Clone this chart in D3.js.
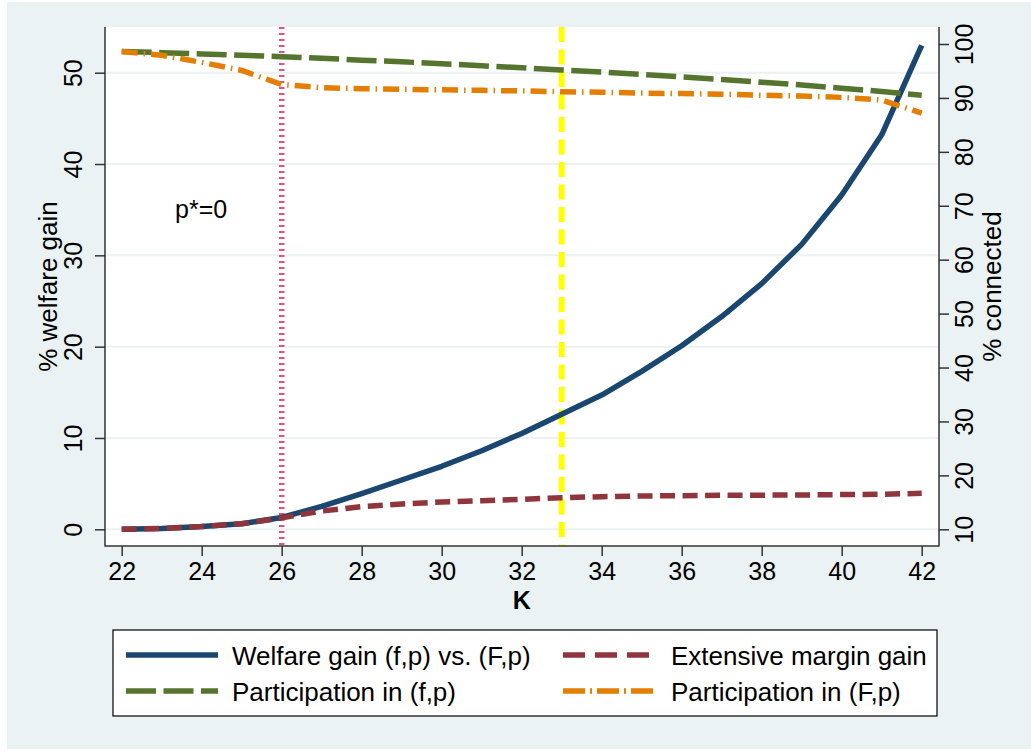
<!DOCTYPE html>
<html>
<head>
<meta charset="utf-8">
<script src="https://cdn.jsdelivr.net/npm/d3@7"></script>
<style>
  html, body { margin: 0; padding: 0; background: #ffffff; }
  svg { display: block; font-family: "Liberation Sans", Arial, sans-serif; }
</style>
</head>
<body>
<svg id="chart" width="1031" height="751"></svg>
<script>
// ---- data ----
const K = [22,23,24,25,26,27,28,29,30,31,32,33,34,35,36,37,38,39,40,41,42];
const welfareGain = [0,0.1,0.3,0.6,1.3,2.5,3.9,5.4,6.9,8.6,10.5,12.6,14.7,17.3,20.1,23.3,26.9,31.2,36.6,43.2,53.0];
const extensiveGain = [0,0.1,0.3,0.6,1.25,2.0,2.48,2.77,2.99,3.13,3.28,3.46,3.57,3.65,3.68,3.72,3.74,3.76,3.8,3.83,3.94];
const partSmall = [98.6,98.4,98.15,97.9,97.65,97.35,97.0,96.7,96.35,95.95,95.6,95.2,94.8,94.35,93.9,93.4,92.9,92.4,91.8,91.2,90.5];
const partBig = [98.6,97.9,96.6,95.1,92.5,91.9,91.7,91.6,91.5,91.4,91.3,91.15,91.05,90.9,90.8,90.7,90.5,90.35,90.1,89.6,87.2];
const xTicks = [22,24,26,28,30,32,34,36,38,40,42];
const leftTicks = [0,10,20,30,40,50];
const rightTicks = [10,20,30,40,50,60,70,80,90,100];
const refLines = [26, 33];
const seriesNames = ["Welfare gain (f,p) vs. (F,p)", "Extensive margin gain", "Participation in (f,p)", "Participation in (F,p)"];
const annotation = "p*=0";

// ---- layout ----
const W = 1031, H = 751;
const P = {left: 105, right: 939, top: 27, bottom: 546};
const svg = d3.select("#chart");
const FS = 25;
const FSL = 26;

svg.append("rect").attr("x", 7).attr("y", 2).attr("width", W - 7).attr("height", H - 4).attr("fill", "#eaf2f3");
svg.append("rect").attr("x", P.left).attr("y", P.top).attr("width", P.right - P.left).attr("height", P.bottom - P.top).attr("fill", "#ffffff");

const x = d3.scaleLinear().domain([22, 42]).range([121.7, 921.7]);
const yL = d3.scaleLinear().domain([0, 50]).range([529.3, 72.7]);
const yR = d3.scaleLinear().domain([10, 100]).range([529.3, 44]);

// gridlines
svg.append("g").selectAll("line").data(leftTicks).join("line")
  .attr("x1", P.left).attr("x2", P.right)
  .attr("y1", d => yL(d)).attr("y2", d => yL(d))
  .attr("stroke", "#eaf2f3").attr("stroke-width", 2);

// reference lines
const refColors = ["#e0567a", "#ffff00"];
const refDash = ["2,4", "15,7.5"];
const refWidth = [5.5, 6];
svg.append("g").selectAll("line").data(refLines).join("line")
  .attr("x1", d => x(d)).attr("x2", d => x(d))
  .attr("y1", P.top).attr("y2", P.bottom)
  .attr("stroke", (d, i) => refColors[i])
  .attr("stroke-dasharray", (d, i) => refDash[i])
  .attr("stroke-width", (d, i) => refWidth[i]);

// series
const series = [
  {vals: welfareGain, y: yL, color: "#1a476f", dash: null, legDash: null},
  {vals: extensiveGain, y: yL, color: "#90353b", dash: "15,7.5", legDash: "22,10"},
  {vals: partSmall, y: yR, color: "#55752f", dash: "30,7.5", legDash: "30,7.5"},
  {vals: partBig, y: yR, color: "#e37e00", dash: "16,6,1.5,6", legDash: "22,5,2,5"}
];
const drawOrder = [0, 1, 2, 3];
const gLines = svg.append("g");
drawOrder.forEach(i => {
  const s = series[i];
  const line = d3.line().x((d, j) => x(K[j])).y(d => s.y(d));
  gLines.append("path").datum(s.vals)
    .attr("d", line)
    .attr("fill", "none")
    .attr("stroke", s.color)
    .attr("stroke-width", 5.5)
    .attr("stroke-dasharray", s.dash)
    .attr("stroke-linejoin", "round");
});

// axes frame
const axisColor = "#333333";
svg.append("line").attr("x1", P.left).attr("x2", P.left).attr("y1", P.top).attr("y2", P.bottom + 0.5).attr("stroke", axisColor).attr("stroke-width", 1.5);
svg.append("line").attr("x1", P.right).attr("x2", P.right).attr("y1", P.top).attr("y2", P.bottom + 0.5).attr("stroke", axisColor).attr("stroke-width", 1.5);
svg.append("line").attr("x1", P.left).attr("x2", P.right).attr("y1", P.bottom).attr("y2", P.bottom).attr("stroke", axisColor).attr("stroke-width", 1.5);

// bottom axis
const gx = svg.append("g").attr("transform", `translate(0,${P.bottom})`)
  .call(d3.axisBottom(x).tickValues(xTicks).tickSize(10).tickSizeOuter(0).tickPadding(0));
gx.select(".domain").remove();
gx.selectAll(".tick line").attr("stroke", axisColor).attr("stroke-width", 1.5);
gx.selectAll(".tick text").attr("font-size", FS).attr("fill", "#000").attr("y", 34).attr("dy", 0)
  .attr("font-family", "Liberation Sans, Arial, sans-serif");

// left axis
const gl = svg.append("g").attr("transform", `translate(${P.left},0)`)
  .call(d3.axisLeft(yL).tickValues(leftTicks).tickSize(10).tickSizeOuter(0));
gl.select(".domain").remove();
gl.selectAll(".tick line").attr("stroke", axisColor).attr("stroke-width", 1.5);
gl.selectAll(".tick text").attr("font-size", FS).attr("fill", "#000")
  .attr("x", 0).attr("y", -23.3).attr("dy", 0).attr("text-anchor", "middle")
  .attr("transform", "rotate(-90)").attr("font-family", "Liberation Sans, Arial, sans-serif");

// right axis
const gr = svg.append("g").attr("transform", `translate(${P.right},0)`)
  .call(d3.axisRight(yR).tickValues(rightTicks).tickSize(10).tickSizeOuter(0));
gr.select(".domain").remove();
gr.selectAll(".tick line").attr("stroke", axisColor).attr("stroke-width", 1.5);
gr.selectAll(".tick text").attr("font-size", FS).attr("fill", "#000")
  .attr("x", 0).attr("y", 34).attr("dy", 0).attr("text-anchor", "middle")
  .attr("transform", "rotate(-90)").attr("font-family", "Liberation Sans, Arial, sans-serif");

// axis titles
const midY = (P.top + P.bottom) / 2;
svg.append("text").attr("transform", `translate(56.7,${midY}) rotate(-90)`)
  .attr("text-anchor", "middle").attr("font-size", FSL).text("% welfare gain");
svg.append("text").attr("transform", `translate(1001,${midY}) rotate(-90)`)
  .attr("text-anchor", "middle").attr("font-size", FSL).text("% connected");
svg.append("text").attr("x", (x(22) + x(42)) / 2).attr("y", 609)
  .attr("text-anchor", "middle").attr("font-size", FS).attr("font-weight", "bold").text("K");

// annotation
svg.append("text").attr("x", 175).attr("y", 218).attr("font-size", FS).text(annotation);

// legend
const lg = svg.append("g");
lg.append("rect").attr("x", 113).attr("y", 630).attr("width", 824).attr("height", 86)
  .attr("fill", "#ffffff").attr("stroke", "#000").attr("stroke-width", 1.2);
const legPos = [
  {lx: 126, ly: 655, tx: 232},
  {lx: 563, ly: 655, tx: 671},
  {lx: 126, ly: 691, tx: 232},
  {lx: 563, ly: 691, tx: 671}
];
series.forEach((s, i) => {
  const p = legPos[i];
  lg.append("line").attr("x1", p.lx).attr("x2", p.lx + 92).attr("y1", p.ly).attr("y2", p.ly)
    .attr("stroke", s.color).attr("stroke-width", 5.5).attr("stroke-dasharray", s.legDash);
  lg.append("text").attr("x", p.tx).attr("y", p.ly + 9.5).attr("font-size", FSL).text(seriesNames[i]);
});
</script>
</body>
</html>
